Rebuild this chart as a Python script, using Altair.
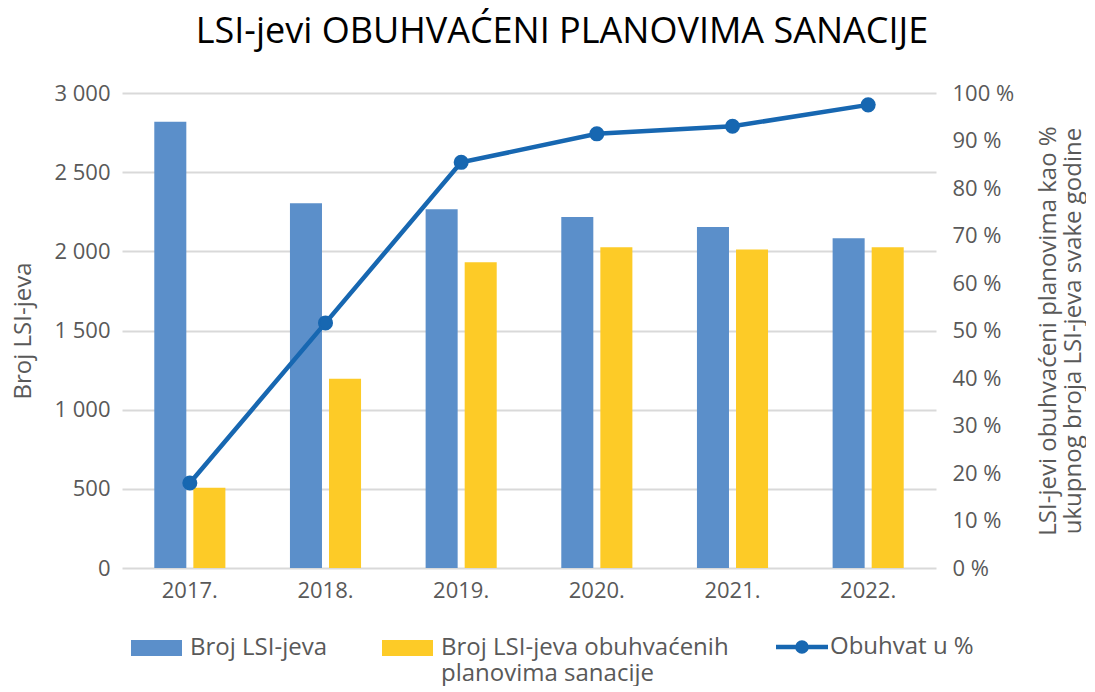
import altair as alt
import pandas as pd

years = ["2017.", "2018.", "2019.", "2020.", "2021.", "2022."]
broj_lsi = [2818, 2304, 2266, 2217, 2154, 2083]
broj_obuhvacenih = [507, 1196, 1931, 2026, 2011, 2026]
obuhvat_pct = [17.9, 51.6, 85.4, 91.4, 93.0, 97.5]

series = ["Broj LSI-jeva", "Broj LSI-jeva obuhvaćenih planovima sanacije"]
line_name = "Obuhvat u %"
left_ticks = [0, 500, 1000, 1500, 2000, 2500, 3000]
right_ticks = [0, 10, 20, 30, 40, 50, 60, 70, 80, 90, 100]

BLUE = "#5B8FCA"
YELLOW = "#FDCB27"
DARK = "#1767B1"
GRID = "#D9D9D9"
TXT = "#595959"
FONT = "Open Sans"
LBL = 22
TTL = 24

bars_df = pd.DataFrame(
    [{"year": y, "series": series[0], "value": v} for y, v in zip(years, broj_lsi)]
    + [{"year": y, "series": series[1], "value": v} for y, v in zip(years, broj_obuhvacenih)]
)
line_df = pd.DataFrame({"year": years, "pct": obuhvat_pct, "name": [line_name] * len(years)})

x_enc = alt.X(
    "year:N", sort=years,
    scale=alt.Scale(paddingInner=0.476, paddingOuter=0.238),
    axis=alt.Axis(title=None, labelAngle=0, ticks=False, domain=False, labelPadding=12,
                  labelFontSize=LBL, labelColor=TXT, labelFont=FONT),
)

bar_path = "M-1,-1H5.375V1H-1Z"
line_path = "M-1,0H6.43M3.36,0A0.65,0.65,0,1,1,2.06,0A0.65,0.65,0,1,1,3.36,0Z"

legend_labels = (
    "datum.label == '" + series[1] + "' ? ['Broj LSI-jeva obuhvaćenih', 'planovima sanacije']"
    " : [datum.label, '']"
)

bars = alt.Chart(bars_df).mark_bar().encode(
    x=x_enc,
    xOffset=alt.XOffset("series:N", sort=series, scale=alt.Scale(paddingInner=0.18, paddingOuter=0)),
    y=alt.Y("value:Q", scale=alt.Scale(domain=[0, 3000], nice=False),
            axis=alt.Axis(values=left_ticks, title="Broj LSI-jeva", grid=True, gridColor=GRID,
                          gridWidth=2, ticks=False, domain=False, labelPadding=12,
                          labelExpr="replace(format(datum.value, ','), ',', ' ')",
                          labelFontSize=LBL, labelColor=TXT, labelFont=FONT,
                          titleFontSize=TTL, titleColor=TXT, titleFont=FONT, titleFontWeight="normal",
                          titlePadding=18)),
    color=alt.Color("series:N", scale=alt.Scale(domain=series, range=[BLUE, YELLOW]),
                    legend=alt.Legend(
                        title=None, orient="none", direction="horizontal", legendX=5, legendY=543,
                        symbolType=bar_path, symbolSize=256, labelOffset=39, columnPadding=50,
                        labelFontSize=TTL, labelColor=TXT, labelFont=FONT, labelLimit=0,
                        labelBaseline="middle", labelExpr=legend_labels,
                    )),
)

line = alt.Chart(line_df).mark_line(
    strokeWidth=4.5,
    point=alt.OverlayMarkDef(filled=True, size=170, fill=DARK, color=DARK),
).encode(
    x=x_enc,
    y=alt.Y("pct:Q", scale=alt.Scale(domain=[0, 100], nice=False),
            axis=alt.Axis(orient="right", values=right_ticks, grid=False, ticks=False, domain=False,
                          labelPadding=16, labelExpr="datum.value + ' %'",
                          labelFontSize=LBL, labelColor=TXT, labelFont=FONT,
                          title=["LSI-jevi obuhvaćeni planovima kao %", "ukupnog broja LSI-jeva svake godine"],
                          titleAngle=270, titleFontSize=TTL, titleColor=TXT, titleFont=FONT,
                          titleFontWeight="normal", titlePadding=22, titleLineHeight=25)),
    stroke=alt.Stroke("name:N", scale=alt.Scale(domain=[line_name], range=[DARK]),
                      legend=alt.Legend(
                          title=None, orient="none", legendX=649, legendY=542,
                          symbolType=line_path, symbolSize=196, symbolStrokeWidth=4.5,
                          symbolFillColor=DARK, labelOffset=35,
                          labelFontSize=TTL, labelColor=TXT, labelFont=FONT, labelLimit=0)),
)

chart = alt.layer(bars, line).resolve_scale(y="independent").properties(
    width=814, height=475,
    padding={"left": 3, "right": 0, "top": 6, "bottom": 0},
    title=alt.TitleParams("LSI-jevi OBUHVAĆENI PLANOVIMA SANACIJE", fontSize=36, font=FONT,
                          fontWeight="normal", color="#000000", anchor="middle", frame="group",
                          dx=33, offset=31),
).configure_view(stroke=None)

chart.save("out.html", embed_options={"renderer": "svg", "actions": False})
